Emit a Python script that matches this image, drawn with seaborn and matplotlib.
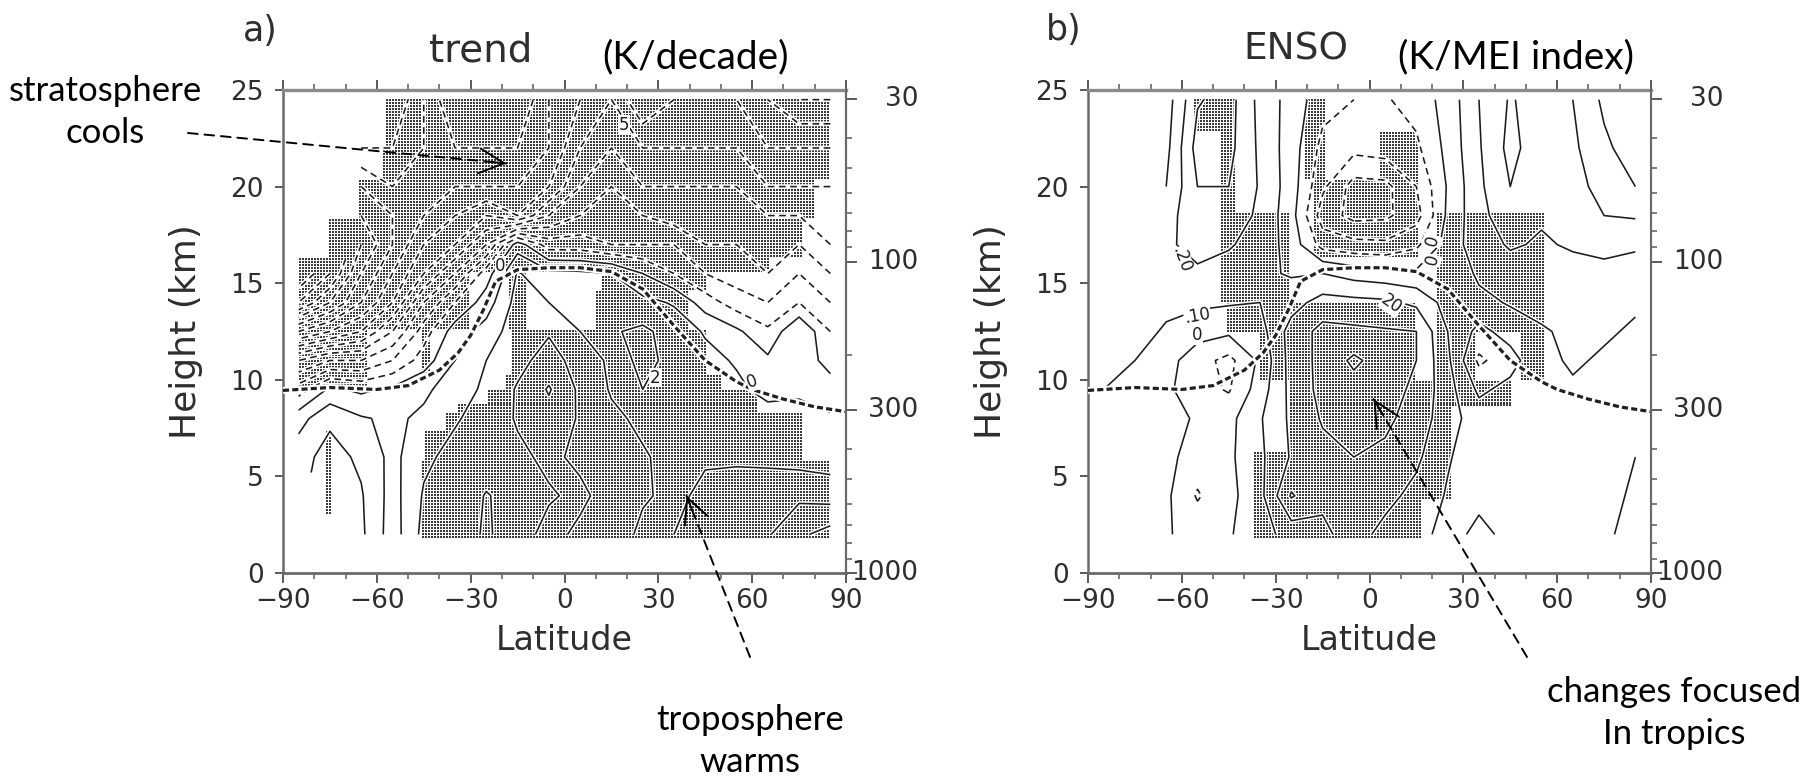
import numpy as np
import pandas as pd
import matplotlib
matplotlib.use("Agg")
import matplotlib.pyplot as plt
from matplotlib import transforms
import seaborn as sns

nan = np.nan

# ---------------- data ----------------
LAT = [-85, -75, -65, -55, -45, -35, -25, -15, -5, 5, 15, 25, 35, 45, 55, 65, 75, 85]
HEIGHT_KM = [2, 4, 6, 8, 9.5, 11, 12.5, 14, 15.5, 17, 18.5, 20, 22, 24.5]

# temperature trend (0.1 K/decade units as contoured), rows = HEIGHT_KM, cols = LAT
TREND = [
    [nan, 2.8, 2.2, 0.5, 2.3, 2.6, 3.1, 2.6, 3.3, 2.8, 2.5, 1.8, 2.0, 2.3, 2.6, 2.9, 3.8, 4.4],
    [nan, 2.6, 2.1, 0.6, 2.1, 2.5, 3.05, 2.7, 2.9, 3.2, 2.6, 2.1, 1.8, 2.2, 2.3, 2.5, 2.8, 2.6],
    [1.6, 2.4, 1.8, 0.7, 1.8, 2.3, 2.6, 2.8, 3.2, 2.8, 2.5, 2.1, 1.7, 1.9, 1.9, 1.8, 1.6, 1.5],
    [0.6, 1.8, 1.1, 0.8, 1.2, 1.9, 2.4, 3.1, 3.6, 2.9, 2.2, 1.8, 1.7, 1.8, 1.6, 1.4, 1.2, 1.1],
    [-1.5, 0.2, -0.2, 0.2, 0.8, 1.5, 2.2, 3.1, 4.1, 2.8, 1.9, 2.0, 2.0, 1.6, 1.2, 0.7, 0.9, 0.6],
    [-4, -3, -3, -2, -0.5, 1.0, 2.0, 2.7, 3.4, 2.6, 1.8, 2.1, 1.9, 1.3, 0.9, 0.2, 0.8, -0.5],
    [-8, -7, -6, -4, -1.5, 0.5, 1.4, 2.6, 2.9, 2.0, 1.9, 2.2, 1.6, 0.9, 0.2, -0.8, 1.0, -1.0],
    [-12, -10, -8, -6, -3, -1, 0.5, 2.4, 2.0, 1.6, 1.6, 1.3, 0.9, -0.5, -1.5, -2, -1, -2],
    [-14, -12, -9, -7, -5, -3, -0.5, 2.1, 1.3, 1.2, 1.0, 0.0, -1.0, -2, -2.5, -3, -2, -3],
    [nan, nan, -10, -8, -6, -5, -3, 0.5, -1.5, -1.5, -2, -2, -2, -3, -3, -3, -3, -4],
    [nan, nan, -9, -8, -7, -6, -5, -6, -4, -3, -2.5, -3, -3.5, -3.5, -3.5, -4, -4, -4],
    [nan, nan, -8, -7, -7, -7, -7, -7, -6, -4, -3, -4, -4, -4, -4, -5, -5, -5],
    [nan, nan, -6, -6, -7, -8, -8, -8, -7, -5, -4, -5, -5, -5, -5, -6, -6, -6],
    [nan, nan, -5, -5, -7, -9, -8, -9, -7, -6, -5, -7, -6, -5, -6, -7, -8, -8],
]

# regression on ENSO index (K per MEI unit), rows = HEIGHT_KM, cols = LAT
ENSO = [
    [0.03, 0.04, 0.01, -0.04, -0.01, 0.06, 0.14, 0.18, 0.24, 0.17, 0.13, 0.07, 0.12, 0.08, 0.06, 0.04, 0.01, -0.02],
    [0.04, 0.05, 0.02, -0.11, -0.03, 0.07, 0.31, 0.22, 0.24, 0.23, 0.17, 0.09, 0.08, 0.08, 0.07, 0.05, 0.02, -0.01],
    [0.05, 0.06, 0.03, -0.05, -0.02, 0.08, 0.21, 0.27, 0.30, 0.28, 0.22, 0.11, 0.04, 0.09, 0.08, 0.06, 0.03, 0.00],
    [0.07, 0.08, 0.03, -0.01, -0.03, 0.09, 0.22, 0.31, 0.33, 0.32, 0.26, 0.14, 0.05, 0.09, 0.09, 0.07, 0.04, 0.02],
    [0.10, 0.09, 0.02, -0.06, -0.11, 0.05, 0.23, 0.33, 0.36, 0.34, 0.28, 0.14, -0.02, 0.03, 0.10, 0.09, 0.06, 0.05],
    [0.11, 0.10, 0.04, -0.06, -0.13, 0.02, 0.24, 0.33, 0.42, 0.35, 0.30, 0.12, -0.12, -0.04, 0.08, 0.11, 0.09, 0.07],
    [0.12, 0.13, 0.09, 0.04, 0.02, 0.06, 0.24, 0.33, 0.32, 0.31, 0.30, 0.10, -0.03, 0.04, 0.09, 0.12, 0.11, 0.09],
    [0.13, 0.14, 0.12, 0.12, 0.11, 0.10, 0.16, 0.24, 0.23, 0.22, 0.18, 0.06, 0.07, 0.11, 0.13, 0.14, 0.13, 0.11],
    [0.15, 0.16, 0.17, 0.19, 0.16, 0.12, 0.09, 0.10, 0.06, 0.04, 0.02, 0.01, 0.12, 0.16, 0.16, 0.17, 0.16, 0.14],
    [nan, nan, 0.19, 0.22, 0.21, 0.16, 0.06, -0.14, -0.17, -0.18, -0.12, 0.04, 0.16, 0.21, 0.19, 0.21, 0.24, 0.22],
    [nan, nan, 0.16, 0.27, 0.26, 0.18, 0.04, -0.25, -0.33, -0.32, -0.24, 0.02, 0.17, 0.26, 0.21, 0.24, 0.30, 0.31],
    [nan, nan, 0.10, 0.30, 0.30, 0.19, 0.05, -0.18, -0.34, -0.33, -0.20, 0.01, 0.18, 0.30, 0.22, 0.26, 0.34, 0.40],
    [nan, nan, 0.07, 0.34, 0.33, 0.18, 0.05, -0.13, -0.17, -0.15, -0.12, 0.03, 0.19, 0.33, 0.24, 0.28, 0.38, 0.45],
    [nan, nan, 0.05, 0.29, 0.34, 0.17, 0.06, -0.06, -0.10, -0.11, -0.06, 0.04, 0.20, 0.31, 0.25, 0.30, 0.42, 0.50],
]

# mean tropopause height
TROPOPAUSE_LAT = [-90, -75, -60, -50, -40, -34, -30, -26, -22, -15, -5, 5, 15, 25, 35, 45, 55, 60, 70, 80, 90]
TROPOPAUSE_KM = [9.45, 9.6, 9.5, 9.7, 10.5, 11.4, 12.3, 13.6, 15.1, 15.7, 15.8, 15.8, 15.6, 14.7, 12.8,
                 11.0, 9.9, 9.5, 9.0, 8.6, 8.35]

# statistically significant areas (stippled): (height from, height to, [(lat from, lat to), ...])
SIG_TREND = [
    (23.6, 24.6, [(-57, 85)]),
    (22.1, 23.6, [(-57, 85)]),
    (20.4, 22.1, [(-58, 85)]),
    (18.4, 20.4, [(-66, 80)]),
    (16.4, 18.4, [(-76, 76)]),
    (15.5, 16.4, [(-85, 66)]),
    (14.6, 15.5, [(-85, -30), (-18, -12), (12, 45)]),
    (12.6, 14.6, [(-85, -30), (-18, -12), (10, 40)]),
    (10.3, 12.6, [(-85, -63), (-46, -43), (-17, 45)]),
    (9.5, 10.3, [(-85, -63), (-19, 50)]),
    (8.8, 9.5, [(-25, 62)]),
    (8.3, 8.8, [(-34, 62)]),
    (7.4, 8.3, [(-38, 76)]),
    (5.8, 7.4, [(-77, -75), (-45, 76)]),
    (3.0, 5.8, [(-77, -75), (-46, 85)]),
    (1.8, 3.0, [(-46, 85)]),
]
SIG_ENSO = [
    (22.8, 24.6, [(-56, -43), (-21, -14)]),
    (20.3, 22.8, [(-48, -43), (-21, -14), (3, 16)]),
    (18.6, 20.3, [(-48, -43), (-18, 16)]),
    (16.4, 18.6, [(-48, -26), (-18, 16), (21, 56)]),
    (14.0, 16.4, [(-48, -26), (21, 56)]),
    (12.5, 14.0, [(-46, 15), (21, 56)]),
    (10.0, 12.5, [(-35, 15), (21, 34), (48, 56)]),
    (8.6, 10.0, [(-26, 45)]),
    (6.3, 8.6, [(-26, 26)]),
    (3.8, 6.3, [(-37, 26)]),
    (1.8, 3.8, [(-37, 17)]),
]

LEVELS_TREND = list(range(-15, 6))
LEVELS_ENSO = [-0.5, -0.4, -0.3, -0.2, -0.1, 0.0, 0.1, 0.2, 0.3, 0.4, 0.5, 0.6]

# contour labels seen on the panels: (text, lat, height, angle)
LABELS_TREND = [("0", -20.5, 15.9, 0), ("2", 29, 10.1, 0), ("0", 60, 9.9, 20), ("5", 19, 23.2, 0)]
LABELS_ENSO = [(".20", -60, 16.2, -70), (".10", -55, 13.3, 10), ("0", -55, 12.3, 0),
               ("20", 7, 13.9, -35), ("0", 20, 17.2, 75), ("0", 20, 16.2, 75)]

XTICKS = [-90, -60, -30, 0, 30, 60, 90]
XMINOR = [-90, -80, -70, -60, -50, -40, -30, -20, -10, 0, 10, 20, 30, 40, 50, 60, 70, 80, 90]
YTICKS = [0, 5, 10, 15, 20, 25]
PRESSURE_TICKS = [30, 40, 50, 60, 70, 80, 90, 100, 200, 300, 400, 500, 600, 700, 800, 900, 1000]
PRESSURE_LABELS = [30, 100, 300, 1000]
SCALE_HEIGHT_KM = 7.0

# ---------------- styling ----------------
sns.set_theme(style="white")
plt.rcParams["font.family"] = ["DejaVu Sans"]
plt.rcParams["lines.dashed_pattern"] = [4.2, 2.8]

W, H = 1816, 778
fig = plt.figure(figsize=(W / 100, H / 100), dpi=100)
fig.patch.set_facecolor("white")

INK = "#1c1c1c"
AXC = "#5a5a5a"
TXT = "#2e2e2e"
NOTE_FONT = ["Lato", "DejaVu Sans"]


def fxy(px, py):
    return px / W, 1 - py / H


def stipple_frame(bands):
    lat_d = np.arange(-89.5, 90.0, 0.96)
    z_d = np.arange(1.85, 24.65, 0.155)
    LL, ZZ = np.meshgrid(lat_d, z_d)
    mask = np.zeros_like(LL, dtype=bool)
    for zlo, zhi, spans in bands:
        inz = (ZZ >= zlo) & (ZZ < zhi)
        for a, b in spans:
            mask |= inz & (LL >= a) & (LL <= b)
    return pd.DataFrame({"lat": LL[mask], "z": ZZ[mask]})


panels = [
    dict(data=TREND, sig=SIG_TREND, levels=LEVELS_TREND, left=283, labels=LABELS_TREND,
         letter="a)", letter_xy=(260, 31), title="trend", title_size=28, title_xy=(481, 51),
         units="(K/decade)", units_xy=(695, 57)),
    dict(data=ENSO, sig=SIG_ENSO, levels=LEVELS_ENSO, left=1088, labels=LABELS_ENSO,
         letter="b)", letter_xy=(1064, 30), title="ENSO", title_size=27, title_xy=(1296, 50),
         units="(K/MEI index)", units_xy=(1516, 57)),
]

AX_W, AX_TOP, AX_BOT = 563, 90, 573
axes = []
for p in panels:
    ax = fig.add_axes([p["left"] / W, 1 - AX_BOT / H, AX_W / W, (AX_BOT - AX_TOP) / H])
    axes.append(ax)
    ax.set_facecolor("white")
    arr = np.array(p["data"], dtype=float)

    # stippling for significance
    dots = stipple_frame(p["sig"])
    sns.scatterplot(data=dots, x="lat", y="z", marker="s", s=1.5, color="#3a3a3a",
                    linewidth=0, legend=False, ax=ax, zorder=1)

    # contours: white halo then ink
    ax.contour(LAT, HEIGHT_KM, arr, levels=p["levels"], colors="white",
               linewidths=3.4, linestyles="solid", zorder=2)
    styles = ["dashed" if lv < -1e-9 else "solid" for lv in p["levels"]]
    ax.contour(LAT, HEIGHT_KM, arr, levels=p["levels"], colors=INK,
               linewidths=1.15, linestyles=styles, zorder=3)
    for txt, la, zz, ang in p["labels"]:
        ax.text(la, zz, txt, fontsize=12, color=INK, rotation=ang, ha="center", va="center",
                zorder=6, bbox=dict(facecolor="white", edgecolor="none", pad=0.4))

    # tropopause
    ax.plot(TROPOPAUSE_LAT, TROPOPAUSE_KM, color="white", lw=5, zorder=4, solid_capstyle="butt")
    ax.plot(TROPOPAUSE_LAT, TROPOPAUSE_KM, color="#202020", lw=2.3,
            linestyle=(0, (1.9, 1.0)), zorder=5)

    ax.set_xlim(-90, 90)
    ax.set_ylim(0, 25)
    ax.set_xticks(XTICKS)
    ax.set_xticks(XMINOR, minor=True)
    ax.set_yticks(YTICKS)
    ax.set_xlabel("")
    ax.set_ylabel("")
    ax.tick_params(axis="x", which="both", direction="out", top=True, bottom=True,
                   labeltop=False, color=AXC, labelcolor=TXT, labelsize=19, pad=4)
    ax.tick_params(axis="x", which="major", length=7, width=1.4)
    ax.tick_params(axis="x", which="minor", length=4.5, width=1.1)
    ax.tick_params(axis="y", which="major", direction="out", left=True, right=False,
                   length=6, width=1.4, color=AXC, labelcolor=TXT, labelsize=19, pad=8)
    for side, lw in (("left", 1.8), ("bottom", 2.0), ("top", 2.4), ("right", 1.5)):
        ax.spines[side].set_visible(True)
        ax.spines[side].set_color("#6a6a6a" if side != "top" else "#8a8a8a")
        ax.spines[side].set_linewidth(lw)
    ax.grid(False)

    # pressure axis on the right
    ax2 = ax.twinx()
    ax2.set_ylim(0, 25)
    zmaj = [SCALE_HEIGHT_KM * np.log(1000.0 / pr) for pr in PRESSURE_LABELS]
    zmin = [SCALE_HEIGHT_KM * np.log(1000.0 / pr) for pr in PRESSURE_TICKS]
    ax2.set_yticks(zmaj)
    ax2.set_yticklabels([])
    ax2.set_yticks(zmin, minor=True)
    ax2.tick_params(axis="y", which="major", direction="out", length=8, width=1.4, color=AXC, right=True)
    ax2.tick_params(axis="y", which="minor", direction="out", length=4.5, width=1.1, color=AXC, right=True)
    for side in ("left", "top", "bottom"):
        ax2.spines[side].set_visible(False)
    ax2.spines["right"].set_color("#6a6a6a")
    ax2.spines["right"].set_linewidth(1.5)
    ax2.grid(False)
    trans = transforms.blended_transform_factory(ax.transAxes, ax.transData)
    for pr, zz in zip(PRESSURE_LABELS, zmaj):
        ax.text(1 + 72 / AX_W, zz, str(pr), transform=trans, ha="right", va="center",
                fontsize=19, color=TXT, clip_on=False)

    # axis titles
    ax.text(-97 / AX_W, 0.5, "Height (km)", transform=ax.transAxes, rotation=90,
            ha="center", va="center", fontsize=26, color=TXT)
    ax.text(0.5, -(640 - AX_BOT) / (AX_BOT - AX_TOP), "Latitude", transform=ax.transAxes,
            ha="center", va="center", fontsize=24, color=TXT)

    # panel letter, title, units
    fig.text(*fxy(*p["letter_xy"]), p["letter"], ha="center", va="center", fontsize=25, color=TXT)
    fig.text(*fxy(*p["title_xy"]), p["title"], ha="center", va="center", fontsize=p["title_size"],
             color=TXT)
    fig.text(*fxy(*p["units_xy"]), p["units"], ha="center", va="center", fontsize=28,
             color="black", family=NOTE_FONT)

# ---------------- annotations ----------------
notes = [
    (axes[0], (-18.6, 21.2), (188, 133), "stratosphere\ncools", (105, 112)),
    (axes[0], (39.0, 4.0), (750, 657), "troposphere\nwarms", (750, 741)),
    (axes[1], (1.3, 9.0), (1527, 657), "changes focused\nIn tropics", (1674, 713)),
]
for ax, head, tail_px, label, label_xy in notes:
    head_disp = ax.transData.transform(head)
    tail_disp = np.array([tail_px[0], H - tail_px[1]], dtype=float)
    vec = tail_disp - head_disp
    back = head_disp + vec / np.hypot(*vec) * 16
    ax.annotate("", xy=head, xycoords="data", xytext=(tail_disp[0] / W, tail_disp[1] / H),
                textcoords="figure fraction", annotation_clip=False,
                arrowprops=dict(arrowstyle="-", linestyle=(0, (5, 3.5)), lw=1.4, color="black",
                                shrinkA=0, shrinkB=0), zorder=10)
    ax.annotate("", xy=head, xycoords="data", xytext=(back[0] / W, back[1] / H),
                textcoords="figure fraction", annotation_clip=False,
                arrowprops=dict(arrowstyle="->,head_length=0.9,head_width=0.45", lw=1.4,
                                color="black", shrinkA=0, shrinkB=0, mutation_scale=20), zorder=10)
    fig.text(*fxy(*label_xy), label, ha="center", va="center", fontsize=25, color="black",
             family=NOTE_FONT, linespacing=1.4)

fig.savefig("out.png", dpi=100, facecolor="white")
